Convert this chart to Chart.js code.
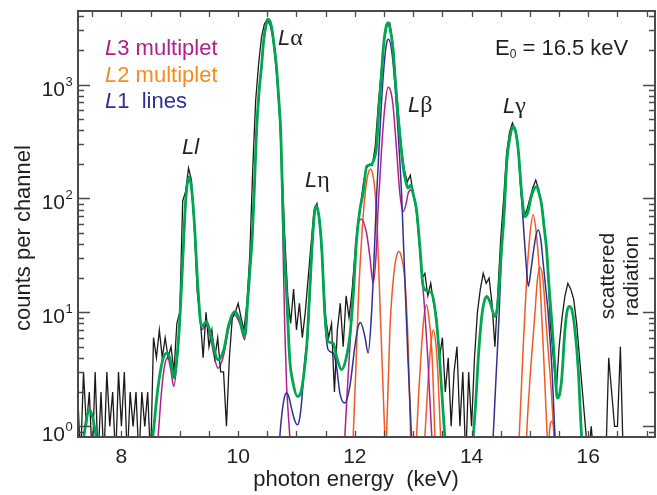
<!DOCTYPE html>
<html>
<head>
<meta charset="utf-8">
<script src="https://cdn.jsdelivr.net/npm/chart.js@4.4.1/dist/chart.umd.min.js"></script>
<style>
  html, body { margin: 0; padding: 0; background: #fff; }
  #spectrum { display: block; }
</style>
</head>
<body>
<canvas id="spectrum" width="657" height="495"></canvas>
<script>
// measured spectrum: counts per 50 eV channel starting at 7.25 keV
const channelStart = 7.25;
const channelWidth = 0.05;
const measuredCounts = [
  2, 0, 3, 1, 2, 0, 3, 0, 2, 0,
  3, 1, 2, 0, 3, 1, 3, 0, 2, 1,
  2, 0, 2, 1, 2, 0, 6, 4, 7, 4,
  6, 4, 5, 3, 8, 10, 95, 115, 185, 145,
  55, 15, 9, 4, 10, 5, 7, 4, 6, 3,
  3, 1, 4, 9, 10, 12, 9, 7, 12, 32,
  180, 720, 1500, 2600, 3400, 3750, 3300, 2500, 1400, 650,
  190, 45, 14, 8, 16, 7, 12, 6, 10, 20,
  40, 78, 90, 62, 24, 9, 6, 8, 2, 7,
  12, 5, 14, 9, 15, 30, 60, 90, 140, 185,
  200, 195, 290, 650, 1300, 2400, 3300, 3450, 2300, 1050,
  520, 270, 175, 140, 160, 110, 80, 45, 20, 22,
  14, 18, 12, 9, 4, 6, 2, 4, 1, 3,
  5, 1, 3, 0, 3, 1, 4, 10, 16, 22,
  18, 20, 12, 5, 15, 45, 100, 250, 380, 460,
  400, 270, 110, 70, 80, 100, 125, 145, 120, 90,
  55, 30, 8, 4, 2, 5, 9, 14, 18, 16,
  13, 8, 4, 2, 1, 0, 1, 0, 0, 0,
  0, 0, 4, 2, 1, 1, 5, 0, 0, 0,
  0, 0, 0, 0, 0, 0, 0, 0
];
// empty channels have no place on a log axis, park them under it
const emptyChannelLevel = 0.5;

// total fit, [energy keV, counts]
const fitCurve = [
  [7.256, 0.42], [7.354, 0.8], [7.405, 1.19], [7.457, 1.4], [7.508, 1.19], [7.577, 0.76], [7.68, 0.34],
  [8.40, 0.34], [8.537, 0.81], [8.622, 2.1], [8.708, 3.84], [8.789, 4.42], [8.845, 3.69], [8.897, 2.67], [8.948, 3.84],
  [9.0, 8.6], [9.051, 28.9], [9.102, 97], [9.159, 155], [9.205, 119], [9.257, 53], [9.308, 17.5], [9.372, 7.5],
  [9.457, 8.3], [9.531, 6.4], [9.656, 3.84], [9.754, 4.7], [9.84, 7.8], [9.943, 10.2], [10.028, 8.6], [10.114, 6.15],
  [10.165, 12.9], [10.208, 26.2], [10.239, 43], [10.277, 119], [10.314, 376], [10.354, 811], [10.40, 1436], [10.439, 2462],
  [10.486, 3450], [10.513, 3740], [10.542, 3614], [10.572, 3220], [10.611, 2317], [10.657, 1436], [10.697, 733], [10.731, 376],
  [10.782, 43], [10.829, 14.9], [10.885, 3.84], [10.937, 2.46], [11.017, 1.83], [11.074, 1.97], [11.125, 2.84], [11.177, 5.2],
  [11.228, 15.8], [11.279, 47.9], [11.331, 86], [11.382, 71.8], [11.434, 35.4], [11.485, 9.9], [11.542, 5.56], [11.628, 5.38],
  [11.691, 4.0], [11.772, 3.14], [11.845, 3.84], [11.914, 6.15], [11.971, 13.8], [12.029, 43.3], [12.086, 79.4], [12.142, 112],
  [12.205, 193], [12.274, 197], [12.325, 218], [12.372, 285], [12.411, 598], [12.457, 1214], [12.485, 2013], [12.531, 3135],
  [12.571, 3490], [12.608, 3013], [12.656, 2013], [12.699, 991], [12.742, 523], [12.788, 295], [12.828, 190], [12.874, 140],
  [12.913, 123], [12.96, 131], [13.003, 108], [13.057, 79.4], [13.114, 37.8], [13.171, 16.9], [13.234, 15.5], [13.315, 14.8],
  [13.401, 8.1], [13.457, 3.61], [13.513, 1.32], [13.56, 0.62], [13.628, 0.28],
  [13.937, 0.28], [14.028, 0.81], [14.074, 1.71], [14.113, 3.84], [14.16, 7.8], [14.199, 11.3], [14.257, 13.8], [14.314, 12.4],
  [14.40, 9.2], [14.456, 12.9], [14.512, 35.4], [14.555, 70], [14.606, 218], [14.658, 347], [14.713, 428], [14.76, 376],
  [14.80, 267], [14.858, 111], [14.915, 69.4], [14.966, 76], [15.017, 101], [15.069, 121], [15.115, 127], [15.154, 112],
  [15.20, 88], [15.24, 57.7], [15.286, 35.4], [15.325, 17.5], [15.372, 8.6], [15.428, 3.35], [15.468, 1.77], [15.505, 1.89],
  [15.543, 2.56], [15.60, 7.0], [15.634, 10.1], [15.674, 11.3], [15.72, 10.5], [15.771, 7.0], [15.828, 3.14], [15.886, 0.81],
  [15.943, 0.42]
];

// L3 multiplet
const l3Multiplet = [
  [8.60, 0.5], [8.629, 0.81], [8.69, 2.1], [8.742, 3.47], [8.794, 4.0], [8.845, 3.14], [8.897, 2.24], [8.948, 3.47],
  [9.0, 8.3], [9.051, 27.8], [9.102, 93], [9.159, 149], [9.205, 114], [9.257, 51], [9.308, 16.4], [9.372, 7.0],
  [9.457, 7.8], [9.531, 5.75], [9.656, 3.24], [9.754, 4.25], [9.84, 7.3], [9.943, 9.5], [10.028, 7.94], [10.114, 5.75],
  [10.165, 12.4], [10.208, 25.5], [10.239, 42], [10.277, 117], [10.314, 370], [10.354, 800], [10.40, 1420], [10.439, 2440],
  [10.486, 3420], [10.513, 3710], [10.542, 3590], [10.572, 3200], [10.611, 2300], [10.657, 1420], [10.697, 725], [10.731, 370],
  [10.774, 28.9], [10.80, 7.0], [10.829, 2.4], [10.86, 1.26], [10.885, 0.81], [10.903, 0.5],
  [11.80, 0.5], [11.828, 0.81], [11.871, 2.1], [11.914, 5.0], [11.971, 19.3], [12.04, 53], [12.115, 65.8], [12.20, 49.6],
  [12.257, 30.9], [12.313, 18.1], [12.372, 37.8], [12.399, 85], [12.428, 146], [12.457, 267], [12.514, 640], [12.571, 947],
  [12.617, 861], [12.656, 640], [12.715, 267], [12.771, 111], [12.828, 76.8], [12.874, 87.9], [12.913, 111], [12.971, 119],
  [13.01, 101], [13.057, 76.3], [13.114, 35.4], [13.183, 12.9], [13.251, 3.84], [13.303, 1.14], [13.328, 0.69], [13.36, 0.5]
];

// L2 multiplet, one curve per line
const l2Line1 = [[11.95, 0.5], [11.971, 0.81], [12.017, 3.14], [12.06, 12.9], [12.115, 43.3], [12.171, 104], [12.223, 161],
  [12.269, 181], [12.308, 161], [12.343, 119], [12.385, 52.8], [12.428, 12.9], [12.471, 3.14], [12.514, 0.81], [12.53, 0.5]];
const l2Line2 = [[12.52, 0.5], [12.543, 0.81], [12.60, 7.0], [12.669, 22.1], [12.711, 30.7], [12.754, 34.2], [12.797, 30.7],
  [12.857, 19.3], [12.914, 5.0], [12.955, 0.81], [12.97, 0.5]];
const l2Line3 = [[13.04, 0.5], [13.057, 0.81], [13.097, 2.1], [13.143, 5.0], [13.183, 9.0], [13.229, 11.7], [13.268, 9.0],
  [13.315, 5.0], [13.346, 2.1], [13.371, 0.81], [13.39, 0.5]];
const l2Line4 = [[13.18, 0.5], [13.20, 0.81], [13.256, 2.56], [13.303, 5.2], [13.343, 7.0], [13.389, 5.2], [13.428, 2.56],
  [13.469, 0.81], [13.49, 0.5]];
const l2Line5 = [[14.80, 0.5], [14.816, 0.81], [14.885, 5.0], [14.943, 19.3], [15.0, 48], [15.056, 71.8], [15.111, 48],
  [15.171, 19.3], [15.24, 3.59], [15.296, 0.81], [15.31, 0.5]];
const l2Line6 = [[14.93, 0.5], [14.943, 0.81], [15.0, 2.56], [15.086, 9.86], [15.128, 19.3], [15.171, 25], [15.223, 19.3],
  [15.286, 7.0], [15.372, 1.83], [15.412, 0.81], [15.43, 0.5]];
const l2Line7 = [[15.32, 0.5], [15.33, 0.81], [15.372, 1.1], [15.428, 0.81], [15.44, 0.5]];

// L1 lines
const l1Lines = [
  [10.69, 0.5], [10.714, 0.81], [10.748, 1.26], [10.791, 1.78], [10.829, 1.96], [10.868, 1.82], [10.92, 1.40], [10.971, 1.12],
  [11.017, 1.03], [11.057, 1.19], [11.091, 1.71], [11.143, 3.84], [11.194, 6.4], [11.228, 14.3], [11.279, 46], [11.331, 84],
  [11.382, 70], [11.434, 34], [11.485, 9.0], [11.542, 4.7], [11.628, 4.4], [11.686, 3.35], [11.743, 1.96], [11.828, 1.60],
  [11.914, 2.24], [12.0, 5.0], [12.056, 7.5], [12.097, 8.15], [12.171, 6.15], [12.228, 4.4], [12.286, 9.86], [12.326, 27],
  [12.372, 104], [12.428, 374], [12.485, 1172], [12.543, 2301], [12.577, 2496], [12.629, 2013], [12.685, 1026], [12.742, 374],
  [12.80, 111], [12.857, 19.3], [12.913, 3.59], [12.971, 0.81], [12.993, 0.5]
];
const l1Gamma = [
  [14.35, 0.5], [14.37, 0.81], [14.417, 2.56], [14.468, 8.6], [14.512, 32], [14.555, 68], [14.606, 209], [14.658, 340],
  [14.713, 416], [14.76, 369], [14.80, 256], [14.846, 119], [14.886, 60.7], [14.932, 27.8], [14.972, 16.9], [15.018, 23.6],
  [15.056, 33.1], [15.102, 47], [15.142, 53], [15.187, 43.3], [15.227, 27], [15.273, 15.8], [15.313, 9.86], [15.342, 6.0],
  [15.372, 3.59], [15.402, 1.71], [15.428, 0.81], [15.445, 0.5]
];

// axes
const energyMin = 7.256, energyMax = 17.143;
const countsMin = 0.806, countsMax = 4420;
const energyTicks = [7.5, 8, 8.5, 9, 9.5, 10, 10.5, 11, 11.5, 12, 12.5, 13, 13.5, 14, 14.5, 15, 15.5, 16, 16.5, 17];
const energyLabels = [8, 10, 12, 14, 16];
const decades = [1, 10, 100, 1000];
const decadeExponents = ['0', '1', '2', '3'];

const SANS = '"Liberation Sans", Arial, Helvetica, sans-serif';
const SERIF = '"Liberation Serif", "Times New Roman", serif';
const GREEN = '#00a651';
const MAGENTA = '#b0208c';
const ORANGE = '#f15a24';
const ORANGE_TEXT = '#f68b1f';
const BLUE = '#2e3192';
const FRAME = '#4a4a4a';

const toPoints = pairs => pairs.map(([e, c]) => ({ x: e, y: c }));
const measured = measuredCounts.map((c, i) => ({
  x: channelStart + i * channelWidth,
  y: c > 0 ? c : emptyChannelLevel
}));

function curve(pairs, color, width, order) {
  return {
    data: toPoints(pairs),
    borderColor: color,
    borderWidth: width,
    pointRadius: 0,
    fill: false,
    cubicInterpolationMode: 'monotone',
    order: order
  };
}

// draw text made of several styled runs, left to right
function drawRuns(ctx, x, y, runs) {
  runs.forEach(([text, font, color, dy]) => {
    ctx.font = font;
    ctx.fillStyle = color;
    ctx.fillText(text, x, y + (dy || 0));
    x += ctx.measureText(text).width;
  });
}

const frameAndText = {
  id: 'frameAndText',
  afterDraw(chart) {
    const { ctx, chartArea: a, scales: { x, y } } = chart;
    ctx.save();

    // box
    ctx.strokeStyle = FRAME;
    ctx.lineWidth = 2;
    ctx.strokeRect(a.left, a.top, a.right - a.left, a.bottom - a.top);

    // inward ticks
    ctx.lineWidth = 1.3;
    ctx.beginPath();
    energyTicks.forEach(v => {
      const px = Math.round(x.getPixelForValue(v)) + 0.5;
      ctx.moveTo(px, a.bottom); ctx.lineTo(px, a.bottom - 6);
      ctx.moveTo(px, a.top); ctx.lineTo(px, a.top + 6);
    });
    [0.1, 1, 10, 100, 1000].forEach(d => {
      for (let m = 1; m <= 9; m++) {
        const v = m * d;
        if (v < countsMin || v > countsMax) continue;
        const py = Math.round(y.getPixelForValue(v)) + 0.5;
        const len = m === 1 ? 12 : 6;
        ctx.moveTo(a.left, py); ctx.lineTo(a.left + len, py);
        ctx.moveTo(a.right, py); ctx.lineTo(a.right - len, py);
      }
    });
    ctx.stroke();

    // tick labels
    ctx.fillStyle = '#231f20';
    ctx.textAlign = 'center';
    ctx.textBaseline = 'alphabetic';
    ctx.font = `21px ${SANS}`;
    energyLabels.forEach(v => ctx.fillText(String(v), x.getPixelForValue(v), 463));

    decades.forEach((v, i) => {
      const py = y.getPixelForValue(v);
      const shift = i === 0 ? 4 : 0;
      ctx.textAlign = 'right';
      ctx.font = `21px ${SANS}`;
      ctx.fillText('10', 65, py + 11 + shift);
      ctx.textAlign = 'left';
      ctx.font = `13px ${SANS}`;
      ctx.fillText(decadeExponents[i], 65.5, py + 1 + shift);
    });

    // axis titles
    ctx.textAlign = 'center';
    ctx.font = `22px ${SANS}`;
    ctx.fillText('photon energy  (keV)', 356, 486);
    ctx.save();
    ctx.translate(30, 238);
    ctx.rotate(-Math.PI / 2);
    ctx.fillText('counts per channel', 0, 0);
    ctx.restore();

    ctx.save();
    ctx.font = `21px ${SANS}`;
    ctx.translate(614, 276);
    ctx.rotate(-Math.PI / 2);
    ctx.fillText('scattered', 0, 0);
    ctx.fillText('radiation', 0, 24);
    ctx.restore();

    // legend
    ctx.textAlign = 'left';
    const ital = `italic 22px ${SANS}`, plain = `22px ${SANS}`, greek = `24px ${SERIF}`;
    const ink = '#231f20';
    drawRuns(ctx, 105, 55, [['L', ital, MAGENTA], ['3 multiplet', plain, MAGENTA]]);
    drawRuns(ctx, 105, 81.5, [['L', ital, ORANGE_TEXT], ['2 multiplet', plain, ORANGE_TEXT]]);
    drawRuns(ctx, 105, 108, [['L', ital, BLUE], ['1  lines', plain, BLUE]]);

    // line labels
    drawRuns(ctx, 278, 45, [['L', ital, ink], ['\u03b1', greek, ink]]);
    drawRuns(ctx, 182, 154, [['Ll', ital, ink]]);
    drawRuns(ctx, 305, 187, [['L', ital, ink], ['\u03b7', greek, ink]]);
    drawRuns(ctx, 408, 112, [['L', ital, ink], ['\u03b2', greek, ink]]);
    drawRuns(ctx, 503, 113, [['L', ital, ink], ['\u03b3', greek, ink]]);

    drawRuns(ctx, 495, 55, [['E', plain, ink], ['0', `12px ${SANS}`, ink, 3], [' = 16.5 keV', plain, ink]]);

    ctx.restore();
  }
};

new Chart(document.getElementById('spectrum'), {
  type: 'line',
  data: {
    datasets: [
      curve(fitCurve, GREEN, 2.8, 0),
      {
        data: measured,
        borderColor: '#1a1a1a',
        borderWidth: 1.3,
        pointRadius: 0,
        fill: false,
        tension: 0,
        order: 1
      },
      curve(l1Lines, BLUE, 1.5, 2),
      curve(l1Gamma, BLUE, 1.5, 2),
      curve(l3Multiplet, MAGENTA, 1.5, 3),
      curve(l2Line1, ORANGE, 1.5, 4),
      curve(l2Line2, ORANGE, 1.5, 4),
      curve(l2Line3, ORANGE, 1.5, 4),
      curve(l2Line4, ORANGE, 1.5, 4),
      curve(l2Line5, ORANGE, 1.5, 4),
      curve(l2Line6, ORANGE, 1.5, 4),
      curve(l2Line7, ORANGE, 1.5, 4)
    ]
  },
  options: {
    responsive: false,
    animation: false,
    devicePixelRatio: 1,
    layout: { padding: { top: 11, right: 2, left: 0, bottom: 0 } },
    plugins: { legend: { display: false }, tooltip: { enabled: false } },
    scales: {
      x: {
        type: 'linear',
        min: energyMin,
        max: energyMax,
        grid: { display: false },
        border: { display: false },
        ticks: { display: false },
        afterFit: s => { s.height = 58; }
      },
      y: {
        type: 'logarithmic',
        min: countsMin,
        max: countsMax,
        grid: { display: false },
        border: { display: false },
        ticks: { display: false },
        afterFit: s => { s.width = 78; }
      }
    }
  },
  plugins: [frameAndText]
});
</script>
</body>
</html>
